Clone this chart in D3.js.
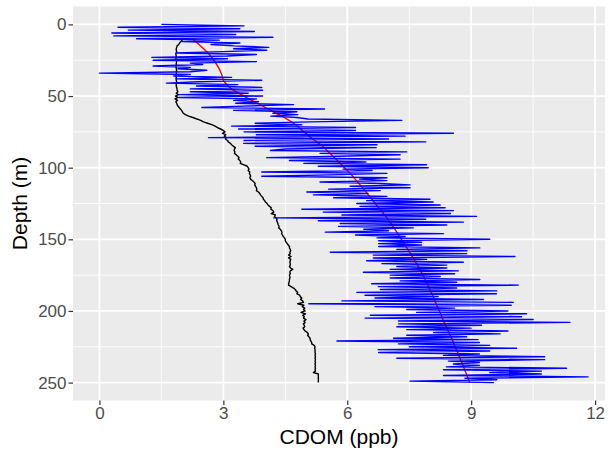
<!DOCTYPE html>
<html>
<head>
<meta charset="utf-8">
<script src="https://cdn.jsdelivr.net/npm/d3@7"></script>
<style>
  body { margin: 0; background: #fff; }
  svg { display: block; font-family: "Liberation Sans", Arial, Helvetica, sans-serif; }
</style>
</head>
<body>
<svg id="chart" width="609" height="454"></svg>
<script>
// CDOM depth profile: raw readings (1 m bins), fitted trend and reference profile

const xTicks = [0, 3, 6, 9, 12];
const yTicks = [0, 50, 100, 150, 200, 250];
const xMinor = [1.5, 4.5, 7.5, 10.5];
const yMinor = [25, 75, 125, 175, 225];

// raw CDOM (ppb), one reading per metre starting at the surface
const rawStartDepth = 0;
const rawCdom = [
  1.5, 3.5, 0.45, 3.4, 0.7, 3.75, 0.3, 3.3, 0.35, 4.2,
  0.9, 2.9, 2.0, 3.4, 2.7, 3.25, 4.1, 3.25, 4.05, 3.0,
  1.85, 3.8, 3.1, 1.27, 3.1, 1.3, 3.8, 2.2, 2.5, 1.3,
  2.2, 1.9, 2.6, 2.2, 0.0, 2.2, 1.8, 3.2, 1.85, 3.93,
  2.4, 1.62, 3.35, 2.35, 3.93, 2.2, 3.95, 2.2, 3.6, 1.92,
  3.95, 1.92, 3.8, 3.25, 3.85, 3.3, 4.7, 3.5, 2.48, 5.45,
  3.25, 4.78, 4.2, 4.8, 4.15, 4.78, 5.05, 7.32, 5.1, 3.77,
  4.9, 3.2, 6.2, 3.37, 6.2, 3.5, 8.57, 3.8, 7.4, 2.64,
  7.0, 3.5, 7.9, 3.49, 6.72, 3.77, 6.7, 4.5, 4.14, 7.44,
  5.34, 7.28, 5.8, 4.05, 7.28, 4.6, 6.45, 4.95, 7.92, 5.3,
  7.96, 5.9, 6.6, 3.93, 6.96, 5.6, 3.93, 6.96, 6.3, 6.96,
  5.34, 6.8, 7.52, 6.07, 7.52, 5.55, 6.8, 5.02, 6.5, 5.18,
  6.96, 5.67, 8.0, 6.47, 8.08, 6.23, 8.25, 6.31, 8.37, 4.9,
  8.57, 5.42, 8.5, 5.87, 9.13, 4.22, 7.9, 5.3, 8.81, 5.83,
  8.41, 5.79, 7.6, 6.4, 7.0, 5.47, 8.33, 6.2, 7.4, 6.72,
  9.45, 6.76, 7.8, 6.76, 7.8, 6.76, 9.21, 7.2, 8.9, 5.59,
  8.89, 6.63, 10.06, 6.63, 7.92, 6.47, 8.81, 6.84, 8.41, 7.2,
  8.41, 7.04, 8.69, 6.39, 8.6, 7.04, 8.25, 7.04, 9.21, 7.28,
  8.65, 6.59, 10.14, 6.75, 8.65, 6.8, 9.62, 6.23, 9.61, 6.43,
  8.2, 6.67, 9.3, 5.87, 10.02, 5.07, 9.97, 6.67, 8.6, 7.44,
  9.89, 7.68, 10.34, 6.56, 10.22, 6.43, 10.5, 7.24, 11.39, 7.24,
  9.25, 7.2, 9.0, 7.44, 9.89, 8.09, 9.7, 7.44, 8.89, 7.12,
  9.17, 5.75, 9.2, 7.24, 9.45, 7.5, 10.1, 6.75, 9.45, 6.76,
  9.2, 8.33, 10.78, 7.2, 10.78, 8.45, 9.2, 8.57, 9.2, 8.4,
  11.31, 8.33, 10.7, 9.45, 10.7, 8.33, 11.83, 8.85, 9.62, 7.52,
  9.55
];

// reference profile (ppb), one reading per metre from 10 m
const refStartDepth = 10;
const refCdom = [
  2.02, 2.0, 1.97, 1.94, 1.92, 1.88, 1.87, 1.86, 1.86, 1.87,
  1.86, 1.85, 1.86, 1.86, 1.85, 1.86, 1.87, 1.86, 1.86, 1.85,
  1.86, 1.86, 1.87, 1.86, 1.86, 1.86, 1.85, 1.86, 1.86, 1.86,
  1.87, 1.86, 1.86, 1.86, 1.87, 1.88, 1.88, 1.9, 1.86, 1.91,
  1.84, 1.9, 1.83, 1.89, 1.85, 1.87, 1.88, 1.9, 1.93, 1.96,
  1.99, 2.01, 2.03, 2.08, 2.16, 2.26, 2.36, 2.45, 2.52, 2.62,
  2.72, 2.8, 2.86, 2.93, 3.0, 3.04, 2.98, 3.06, 3.02, 3.07,
  3.05, 3.1, 3.12, 3.17, 3.2, 3.24, 3.29, 3.27, 3.26, 3.28,
  3.27, 3.31, 3.35, 3.38, 3.36, 3.4, 3.42, 3.41, 3.5, 3.58,
  3.6, 3.62, 3.6, 3.64, 3.63, 3.65, 3.66, 3.64, 3.66, 3.7,
  3.74, 3.77, 3.76, 3.78, 3.8, 3.81, 3.8, 3.85, 3.88, 3.9,
  3.93, 3.96, 3.97, 4.0, 4.02, 4.06, 4.08, 4.12, 4.16, 4.15,
  4.2, 4.22, 4.16, 4.26, 4.24, 4.27, 4.3, 4.29, 4.31, 4.32,
  4.33, 4.35, 4.34, 4.38, 4.4, 4.42, 4.41, 4.43, 4.45, 4.48,
  4.5, 4.5, 4.52, 4.55, 4.57, 4.6, 4.6, 4.62, 4.63, 4.61,
  4.62, 4.58, 4.64, 4.58, 4.63, 4.62, 4.61, 4.62, 4.62, 4.6,
  4.63, 4.68, 4.62, 4.61, 4.62, 4.6, 4.61, 4.61, 4.6, 4.6,
  4.59, 4.58, 4.58, 4.64, 4.7, 4.74, 4.76, 4.8, 4.78, 4.85,
  4.86, 4.9, 4.87, 4.92, 4.94, 4.8, 4.95, 4.91, 4.97, 4.94,
  4.98, 4.88, 4.99, 4.92, 4.96, 4.94, 5.0, 4.95, 4.98, 4.94,
  4.96, 4.97, 4.93, 4.95, 4.98, 5.03, 5.06, 5.04, 5.07, 5.1,
  5.1, 5.12, 5.14, 5.14, 5.2, 5.22, 5.21, 5.22, 5.22, 5.22,
  5.23, 5.22, 5.23, 5.22, 5.23, 5.22, 5.23, 5.22, 5.23, 5.22,
  5.23, 5.22, 5.23, 5.18, 5.3, 5.3, 5.3, 5.3, 5.3, 5.3,
  5.3
];

// fitted trend
const fitDepth = [10, 15, 20, 25, 30, 35, 40, 45, 50, 55, 60, 65, 70, 75, 80, 85, 90, 95, 100,
  105, 110, 115, 120, 125, 130, 135, 140, 145, 150, 155, 160, 165, 170, 175, 180, 185, 190,
  195, 200, 205, 210, 215, 220, 225, 230, 235, 240, 245, 250];
const fitCdom = [2.25, 2.45, 2.63, 2.77, 2.88, 2.96, 3.02, 3.2, 3.5, 3.82, 4.15, 4.48, 4.75,
  4.95, 5.17, 5.4, 5.58, 5.76, 5.93, 6.1, 6.25, 6.4, 6.54, 6.68, 6.82, 6.96, 7.08, 7.2, 7.31,
  7.42, 7.53, 7.64, 7.74, 7.83, 7.92, 8.0, 8.08, 8.15, 8.23, 8.3, 8.38, 8.46, 8.54, 8.61,
  8.69, 8.76, 8.83, 8.9, 8.96];

const svg = d3.select("#chart");
const panel = { left: 73, right: 605, top: 6.5, bottom: 400.5 };

const x = d3.scaleLinear().domain([-0.64, 12.24]).range([panel.left, panel.right]);
const y = d3.scaleLinear().domain([-12.5, 262.5]).range([panel.top, panel.bottom]);

// panel background
svg.append("rect")
  .attr("x", panel.left).attr("y", panel.top)
  .attr("width", panel.right - panel.left).attr("height", panel.bottom - panel.top)
  .attr("fill", "#EBEBEB");

const grid = svg.append("g").attr("stroke", "#FFFFFF").attr("fill", "none");
grid.selectAll(".xminor").data(xMinor).join("line")
  .attr("x1", d => x(d)).attr("x2", d => x(d))
  .attr("y1", panel.top).attr("y2", panel.bottom).attr("stroke-width", 0.9);
grid.selectAll(".yminor").data(yMinor).join("line")
  .attr("y1", d => y(d)).attr("y2", d => y(d))
  .attr("x1", panel.left).attr("x2", panel.right).attr("stroke-width", 0.9);
grid.selectAll(".xmajor").data(xTicks).join("line")
  .attr("x1", d => x(d)).attr("x2", d => x(d))
  .attr("y1", panel.top).attr("y2", panel.bottom).attr("stroke-width", 1.8);
grid.selectAll(".ymajor").data(yTicks).join("line")
  .attr("y1", d => y(d)).attr("y2", d => y(d))
  .attr("x1", panel.left).attr("x2", panel.right).attr("stroke-width", 1.8);

const rawPts = rawCdom.map((v, i) => ({ v, d: rawStartDepth + i }));
const refPts = refCdom.map((v, i) => ({ v, d: refStartDepth + i }));
const fitPts = fitCdom.map((v, i) => ({ v, d: fitDepth[i] }));

const path = d3.line().x(p => x(p.v)).y(p => y(p.d));
const smooth = d3.line().x(p => x(p.v)).y(p => y(p.d)).curve(d3.curveMonotoneY);

svg.append("clipPath").attr("id", "panel-clip").append("rect")
  .attr("x", panel.left).attr("y", panel.top)
  .attr("width", panel.right - panel.left).attr("height", panel.bottom - panel.top);

const marks = svg.append("g").attr("clip-path", "url(#panel-clip)").attr("fill", "none")
  .attr("stroke-linejoin", "round");

marks.append("path").datum(refPts).attr("d", path)
  .attr("stroke", "#000000").attr("stroke-width", 1.4);
marks.append("path").datum(fitPts).attr("d", smooth)
  .attr("stroke", "#FF0000").attr("stroke-width", 1.4);
marks.append("path").datum(rawPts).attr("d", path)
  .attr("stroke", "#0000FF").attr("stroke-width", 1.4);

// axes
const label = d => String(d);
const xAxis = svg.append("g").attr("transform", `translate(0,${panel.bottom})`)
  .call(d3.axisBottom(x).tickValues(xTicks).tickFormat(label).tickSize(4.5).tickPadding(1.8));
const yAxis = svg.append("g").attr("transform", `translate(${panel.left},0)`)
  .call(d3.axisLeft(y).tickValues(yTicks).tickFormat(label).tickSize(4.5).tickPadding(2));

[xAxis, yAxis].forEach(g => {
  g.select(".domain").remove();
  g.selectAll(".tick line").attr("stroke", "#333333").attr("stroke-width", 1.2);
  g.selectAll(".tick text")
    .attr("fill", "#4D4D4D")
    .style("font-size", "17px")
    .style("font-family", "'Liberation Sans', Arial, Helvetica, sans-serif");
});

// axis titles
svg.append("text")
  .attr("x", (panel.left + panel.right) / 2).attr("y", 444)
  .attr("text-anchor", "middle")
  .style("font-size", "21px").attr("fill", "#000000")
  .text("CDOM (ppb)");

svg.append("text")
  .attr("transform", `translate(27,${(panel.top + panel.bottom) / 2}) rotate(-90)`)
  .attr("text-anchor", "middle")
  .style("font-size", "21px").attr("fill", "#000000")
  .text("Depth (m)");
</script>
</body>
</html>
